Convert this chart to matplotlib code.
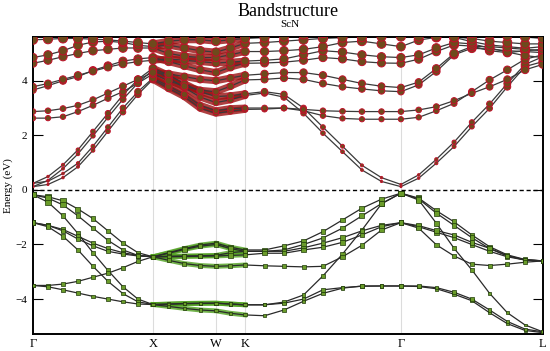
import numpy as np
import matplotlib
matplotlib.use('Agg')
import matplotlib.pyplot as plt

# k-path sample points (Gamma-X-W-K-Gamma-L)
k_path = [0.0, 0.125, 0.25, 0.375, 0.5, 0.625, 0.75, 0.875, 1.0,
          1.131, 1.262, 1.394, 1.525,
          1.646, 1.767,
          1.93, 2.092, 2.255, 2.417, 2.58, 2.742, 2.905, 3.067,
          3.215, 3.362, 3.51, 3.658, 3.806, 3.954, 4.102, 4.25]
node_k = [0.0, 1.0, 1.525, 1.767, 3.067, 4.25]
node_labels = ['Γ', 'X', 'W', 'K', 'Γ', 'L']

# valence bands (eV)
vb1 = [-0.18, -0.25, -0.4, -0.7, -1.05, -1.5, -1.95, -2.3, -2.45, -2.3, -2.15, -2.02, -1.95, -2.1, -2.2,
       -2.2, -2.05, -1.87, -1.53, -1.10, -0.67, -0.34, -0.12, -0.3, -0.76, -1.17, -1.65, -2.08, -2.38, -2.55, -2.6]
vb2 = [-0.18, -0.3, -0.55, -0.95, -1.4, -1.85, -2.2, -2.4, -2.45, -2.32, -2.18, -2.06, -2.0, -2.15, -2.25,
       -2.25, -2.2, -2.0, -1.76, -1.4, -0.95, -0.5, -0.12, -0.33, -0.85, -1.3, -1.75, -2.15, -2.42, -2.57, -2.6]
vb3 = [-0.18, -0.45, -0.95, -1.6, -2.3, -2.95, -3.55, -4.0, -4.2, -4.18, -4.16, -4.15, -4.15, -4.18, -4.21,
       -4.21, -4.11, -3.85, -3.15, -2.35, -1.47, -0.51, -0.12, -0.37, -1.22, -2.14, -2.93, -3.79, -4.5, -4.95, -5.2]
vb4 = [-1.2, -1.3, -1.45, -1.7, -1.95, -2.15, -2.3, -2.4, -2.45, -2.43, -2.42, -2.41, -2.4, -2.3, -2.25,
       -2.25, -2.25, -2.12, -1.95, -1.75, -1.5, -1.3, -1.2, -1.35, -1.55, -1.75, -2.0, -2.25, -2.45, -2.57, -2.6]
vb5 = [-1.2, -1.3, -1.5, -1.8, -2.05, -2.25, -2.35, -2.42, -2.45, -2.45, -2.44, -2.43, -2.42, -2.4, -2.38,
       -2.32, -2.32, -2.2, -2.1, -1.92, -1.65, -1.35, -1.2, -1.31, -1.49, -1.65, -1.92, -2.14, -2.41, -2.56, -2.6]
vb6 = [-1.2, -1.35, -1.7, -2.2, -2.8, -3.35, -3.8, -4.1, -4.2, -4.19, -4.17, -4.16, -4.15, -4.18, -4.21,
       -4.21, -4.15, -4.0, -3.66, -3.58, -3.53, -3.52, -3.52, -3.54, -3.62, -3.82, -4.06, -4.5, -4.9, -5.15, -5.23]
vb7 = [-3.5, -3.5, -3.45, -3.35, -3.2, -3.05, -2.85, -2.62, -2.45, -2.58, -2.7, -2.77, -2.8, -2.78, -2.75,
       -2.78, -2.8, -2.82, -2.8, -2.45, -2.03, -1.47, -1.2, -1.4, -2.01, -2.42, -2.72, -2.77, -2.72, -2.65, -2.6]
vb8 = [-3.5, -3.55, -3.66, -3.78, -3.9, -4.0, -4.1, -4.18, -4.2, -4.27, -4.34, -4.4, -4.43, -4.52, -4.58,
       -4.61, -4.4, -4.08, -3.79, -3.6, -3.52, -3.52, -3.52, -3.52, -3.58, -3.75, -4.0, -4.4, -4.82, -5.1, -5.2]

# conduction bands (eV)
cb1 = [0.12, 0.35, 0.78, 1.32, 1.98, 2.66, 3.32, 3.92, 4.4, 4.1, 3.75, 3.4, 3.2, 3.3, 3.46,
       3.55, 3.4, 2.81, 2.08, 1.4, 0.73, 0.31, 0.12, 0.43, 0.98, 1.59, 2.32, 2.99, 3.78, 4.52, 4.7]
cb2 = [0.24, 0.49, 0.92, 1.47, 2.14, 2.81, 3.48, 4.05, 4.46, 4.2, 3.9, 3.6, 3.42, 3.45, 3.52,
       3.6, 3.5, 3.0, 2.3, 1.6, 0.9, 0.45, 0.2, 0.55, 1.12, 1.75, 2.48, 3.15, 3.9, 4.6, 4.88]
cb3 = [0.12, 0.2, 0.45, 0.85, 1.45, 2.15, 2.85, 3.5, 4.05, 3.72, 3.42, 2.99, 2.81, 2.88, 2.95,
       2.96, 3.0, 2.9, 2.72, 2.62, 2.59, 2.59, 2.59, 2.66, 2.9, 3.17, 3.6, 4.03, 4.4, 4.79, 4.95]
cb4 = [0.24, 0.32, 0.6, 0.98, 1.6, 2.3, 3.0, 3.6, 4.1, 3.8, 3.5, 3.1, 2.9, 2.98, 3.0,
       3.0, 3.0, 2.95, 2.9, 2.88, 2.87, 2.87, 2.87, 2.93, 3.05, 3.27, 3.54, 3.78, 4.05, 4.4, 4.6]
cb5 = [2.63, 2.63, 2.68, 2.87, 3.1, 3.36, 3.6, 3.91, 4.25, 4.0, 3.8, 3.65, 3.6, 3.8, 4.03,
       4.05, 4.1, 4.05, 3.9, 3.78, 3.7, 3.63, 3.6, 3.85, 4.34, 4.95, 5.19, 5.16, 5.1, 5.07, 5.03]
cb6 = [2.87, 2.9, 2.98, 3.1, 3.3, 3.55, 3.8, 4.05, 4.3, 4.25, 4.15, 4.05, 4.0, 4.1, 4.2,
       4.25, 4.3, 4.3, 4.2, 4.05, 3.9, 3.8, 3.75, 3.95, 4.45, 5.0, 5.25, 5.25, 5.2, 5.15, 5.1]
cb7 = [3.66, 3.82, 4.0, 4.15, 4.38, 4.55, 4.72, 4.8, 4.85, 4.7, 4.55, 4.4, 4.3, 4.5, 4.64,
       4.65, 4.68, 4.75, 4.85, 4.8, 4.7, 4.65, 4.64, 4.79, 5.07, 5.31, 5.27, 5.1, 5.03, 5.1, 5.15]
cb8 = [3.78, 3.9, 4.05, 4.2, 4.35, 4.5, 4.62, 4.7, 4.75, 4.8, 4.75, 4.7, 4.65, 4.68, 4.72,
       4.75, 4.8, 4.95, 5.1, 5.05, 4.95, 4.88, 4.85, 4.95, 5.2, 5.4, 5.35, 5.2, 5.05, 4.92, 4.85]
cb9 = [4.64, 4.75, 4.88, 5.0, 5.1, 5.15, 5.2, 5.2, 5.2, 5.0, 4.9, 4.85, 4.85, 4.95, 5.07,
       5.07, 5.1, 5.15, 5.25, 5.4, 5.45, 5.35, 5.25, 5.49, 5.59, 5.59, 5.43, 5.31, 5.25, 5.19, 5.25]
cb10 = [4.85, 4.95, 5.1, 5.3, 5.42, 5.45, 5.4, 5.3, 5.25, 5.3, 5.2, 5.1, 5.05, 5.2, 5.37,
        5.4, 5.45, 5.5, 5.55, 5.58, 5.6, 5.62, 5.62, 5.62, 5.62, 5.6, 5.55, 5.45, 5.4, 5.35, 5.35]
cb11 = [5.5, 5.52, 5.55, 5.55, 5.52, 5.5, 5.45, 5.4, 5.35, 5.45, 5.5, 5.5, 5.45, 5.5, 5.55,
        5.58, 5.62, 5.7, 5.75, 5.8, 5.8, 5.8, 5.8, 5.8, 5.8, 5.8, 5.75, 5.7, 5.65, 5.6, 5.55]

valence = [vb1, vb2, vb3, vb4, vb5, vb6, vb7, vb8]
conduction = [cb1, cb2, cb3, cb4, cb5, cb6, cb7, cb8, cb9, cb10, cb11]

plt.rcParams['font.family'] = ['Liberation Serif', 'DejaVu Serif']

fig = plt.figure(figsize=(5.5, 3.51), dpi=100)
ax = fig.add_axes([0.06, 0.0476, 0.927, 0.846])

k = np.array(k_path)
blob = (k >= node_k[1]) & (k <= node_k[3])   # X..K part drawn as fat band

for x in node_k[1:-1]:
    ax.axvline(x, color='#dcdcdc', lw=0.8, zorder=0)

for band in conduction:
    e = np.array(band)
    ax.plot(k[blob], e[blob], color='#9a1212', lw=5, alpha=0.8, solid_capstyle='round', zorder=1)
    ax.plot(k, e, color='#3a3a3a', lw=0.9, zorder=2)
    sizes = (1.3 + 0.95 * np.clip(e, 0, None)) ** 2
    ax.scatter(k, e, s=sizes, c='#6e4a1c', edgecolors='#c0102a', linewidths=0.7, zorder=3)

for band in valence:
    e = np.array(band)
    ax.plot(k[blob], e[blob], color='#4fa01e', lw=3.5, alpha=0.8, zorder=1)
    ax.plot(k, e, color='#2a2a2a', lw=0.9, zorder=2)
    sizes = (2 + 0.35 * (e + 5.3)) ** 2
    ax.scatter(k, e, s=sizes, marker='s', c='#6a9c2a', edgecolors='#1f3a0a', linewidths=0.5, zorder=3)

ax.axhline(0, color='black', lw=1.0, ls=(0, (3, 2)), zorder=4)

ax.set_xlim(node_k[0], node_k[-1])
ax.set_ylim(-5.29, 5.59)
ax.set_xticks(node_k)
ax.set_xticklabels(node_labels, fontsize=9)
ax.set_yticks([-4, -2, 0, 2, 4])
ax.tick_params(axis='x', length=0, pad=3)
ax.tick_params(axis='y', direction='in', length=7, width=0.8, labelsize=8, right=True, pad=4)
for s in ax.spines.values():
    s.set_linewidth(1.4)
ax.set_ylabel('Energy (eV)', fontsize=8, labelpad=2)

fig.text(0.524, 0.966, 'Bandstructure', ha='center', va='center', fontsize=13)
fig.text(0.527, 0.93, 'ScN', ha='center', va='center', fontsize=8)

fig.savefig('out.png', dpi=100)
